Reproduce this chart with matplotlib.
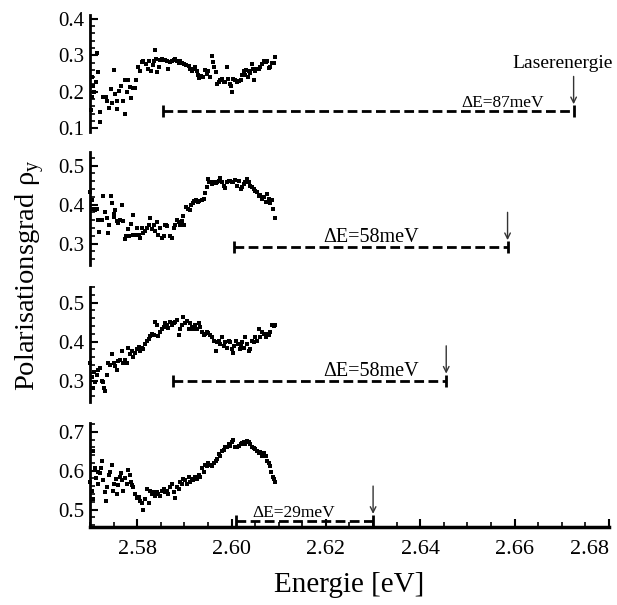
import matplotlib
matplotlib.use("Agg")
import matplotlib.pyplot as plt
from matplotlib.ticker import MultipleLocator, FormatStrFormatter

plt.rcParams['font.family'] = ['Liberation Serif', 'DejaVu Serif']
plt.rcParams['mathtext.fontset'] = 'custom'
plt.rcParams['mathtext.rm'] = 'Liberation Serif'

#---------- data ----------
energy1 = [2.5703, 2.5704, 2.5705, 2.5707, 2.5709, 2.5713, 2.5714, 2.5718, 2.5721, 2.5722,
           2.5727, 2.5734, 2.5737, 2.5740, 2.5744, 2.5746, 2.5750, 2.5752, 2.5757, 2.5758,
           2.5762, 2.5765, 2.5771, 2.5774, 2.5775, 2.5778, 2.5781, 2.5785, 2.5786, 2.5791,
           2.5796, 2.5797, 2.5801, 2.5805, 2.5810, 2.5813, 2.5819, 2.5822, 2.5826, 2.5829,
           2.5833, 2.5836, 2.5838, 2.5840, 2.5843, 2.5846, 2.5849, 2.5852, 2.5856, 2.5859,
           2.5863, 2.5866, 2.5870, 2.5873, 2.5877, 2.5881, 2.5884, 2.5888, 2.5891, 2.5895,
           2.5900, 2.5904, 2.5909, 2.5912, 2.5916, 2.5919, 2.5923, 2.5927, 2.5929, 2.5932,
           2.5935, 2.5939, 2.5944, 2.5948, 2.5951, 2.5955, 2.5958, 2.5960, 2.5963, 2.5966,
           2.5969, 2.5973, 2.5976, 2.5980, 2.5983, 2.5987, 2.5990, 2.5992, 2.5996, 2.5999,
           2.6001, 2.6004, 2.6008, 2.6012, 2.6015, 2.6019, 2.6022, 2.6026, 2.6029, 2.6031,
           2.6034, 2.6036, 2.6040, 2.6043, 2.6046, 2.6048, 2.6050, 2.6054, 2.6058, 2.6061,
           2.6065, 2.6068, 2.6072, 2.6075, 2.6079, 2.6082, 2.6086, 2.6089, 2.6093]
rho1 = [0.149, 0.240, 0.185, 0.217, 0.199, 0.226, 0.305, 0.254, 0.145, 0.117,
        0.185, 0.187, 0.176, 0.156, 0.208, 0.169, 0.260, 0.195, 0.176, 0.154,
        0.202, 0.217, 0.176, 0.231, 0.138, 0.199, 0.231, 0.213, 0.184, 0.211,
        0.211, 0.231, 0.267, 0.258, 0.281, 0.285, 0.276, 0.263, 0.284, 0.256,
        0.272, 0.285, 0.313, 0.290, 0.254, 0.267, 0.287, 0.289, 0.287, 0.287,
        0.285, 0.263, 0.281, 0.284, 0.287, 0.289, 0.285, 0.278, 0.284, 0.280,
        0.276, 0.272, 0.270, 0.263, 0.258, 0.263, 0.267, 0.258, 0.245, 0.238,
        0.242, 0.240, 0.260, 0.249, 0.258, 0.240, 0.299, 0.281, 0.267, 0.254,
        0.222, 0.226, 0.231, 0.235, 0.226, 0.226, 0.267, 0.235, 0.222, 0.217,
        0.199, 0.235, 0.231, 0.226, 0.229, 0.233, 0.245, 0.258, 0.245, 0.260,
        0.240, 0.258, 0.251, 0.276, 0.263, 0.233, 0.258, 0.263, 0.263, 0.269,
        0.276, 0.285, 0.281, 0.283, 0.265, 0.267, 0.278, 0.278, 0.295]

energy2 = [2.5701, 2.5704, 2.5707, 2.5711, 2.5714, 2.5718, 2.5720, 2.5725, 2.5728, 2.5732,
           2.5735, 2.5739, 2.5741, 2.5744, 2.5746, 2.5750, 2.5751, 2.5753, 2.5757, 2.5760,
           2.5764, 2.5767, 2.5769, 2.5774, 2.5776, 2.5780, 2.5783, 2.5786, 2.5791, 2.5792,
           2.5796, 2.5799, 2.5803, 2.5806, 2.5810, 2.5813, 2.5817, 2.5820, 2.5824, 2.5827,
           2.5831, 2.5835, 2.5838, 2.5842, 2.5845, 2.5849, 2.5852, 2.5856, 2.5859, 2.5861,
           2.5864, 2.5870, 2.5873, 2.5877, 2.5881, 2.5884, 2.5888, 2.5891, 2.5895, 2.5897,
           2.5900, 2.5904, 2.5907, 2.5911, 2.5914, 2.5918, 2.5921, 2.5925, 2.5928, 2.5932,
           2.5937, 2.5941, 2.5944, 2.5948, 2.5950, 2.5952, 2.5955, 2.5958, 2.5962, 2.5966,
           2.5969, 2.5973, 2.5976, 2.5980, 2.5983, 2.5987, 2.5990, 2.5994, 2.5997, 2.6001,
           2.6004, 2.6008, 2.6012, 2.6015, 2.6019, 2.6022, 2.6026, 2.6029, 2.6033, 2.6036,
           2.6040, 2.6043, 2.6047, 2.6050, 2.6054, 2.6058, 2.6061, 2.6065, 2.6068, 2.6072,
           2.6075, 2.6079, 2.6082, 2.6086, 2.6088, 2.6093]
rho2 = [0.433, 0.411, 0.390, 0.386, 0.388, 0.361, 0.330, 0.361, 0.422, 0.382,
        0.365, 0.327, 0.347, 0.423, 0.403, 0.375, 0.367, 0.386, 0.357, 0.353,
        0.361, 0.398, 0.357, 0.311, 0.319, 0.337, 0.319, 0.350, 0.373, 0.323,
        0.323, 0.340, 0.323, 0.315, 0.340, 0.327, 0.332, 0.340, 0.347, 0.365,
        0.338, 0.347, 0.332, 0.355, 0.323, 0.340, 0.315, 0.319, 0.347, 0.348,
        0.344, 0.319, 0.315, 0.340, 0.347, 0.361, 0.355, 0.348, 0.357, 0.372,
        0.347, 0.394, 0.390, 0.386, 0.398, 0.403, 0.408, 0.411, 0.407, 0.408,
        0.411, 0.415, 0.430, 0.444, 0.465, 0.457, 0.458, 0.453, 0.457, 0.455,
        0.457, 0.461, 0.467, 0.457, 0.448, 0.442, 0.457, 0.461, 0.461, 0.457,
        0.458, 0.463, 0.448, 0.461, 0.440, 0.444, 0.453, 0.458, 0.465, 0.457,
        0.448, 0.444, 0.440, 0.436, 0.432, 0.423, 0.425, 0.415, 0.419, 0.407,
        0.428, 0.415, 0.403, 0.411, 0.390, 0.365]

energy3 = [2.5701, 2.5704, 2.5706, 2.5708, 2.5711, 2.5714, 2.5718, 2.5721, 2.5725, 2.5728,
           2.5730, 2.5732, 2.5735, 2.5739, 2.5742, 2.5746, 2.5750, 2.5753, 2.5757, 2.5760,
           2.5764, 2.5767, 2.5771, 2.5774, 2.5778, 2.5781, 2.5785, 2.5789, 2.5792, 2.5796,
           2.5799, 2.5803, 2.5806, 2.5810, 2.5813, 2.5817, 2.5820, 2.5824, 2.5827, 2.5831,
           2.5835, 2.5838, 2.5842, 2.5845, 2.5849, 2.5852, 2.5856, 2.5859, 2.5863, 2.5866,
           2.5870, 2.5873, 2.5877, 2.5881, 2.5884, 2.5888, 2.5891, 2.5895, 2.5898, 2.5902,
           2.5905, 2.5909, 2.5912, 2.5916, 2.5919, 2.5923, 2.5927, 2.5930, 2.5934, 2.5937,
           2.5941, 2.5944, 2.5948, 2.5951, 2.5955, 2.5958, 2.5962, 2.5966, 2.5969, 2.5973,
           2.5976, 2.5980, 2.5983, 2.5987, 2.5990, 2.5994, 2.5997, 2.6001, 2.6003, 2.6006,
           2.6010, 2.6013, 2.6017, 2.6020, 2.6023, 2.6026, 2.6029, 2.6033, 2.6036, 2.6040,
           2.6043, 2.6047, 2.6050, 2.6054, 2.6058, 2.6061, 2.6065, 2.6068, 2.6072, 2.6075,
           2.6079, 2.6082, 2.6086, 2.6089, 2.6093]
rho3 = [0.344, 0.309, 0.282, 0.322, 0.296, 0.313, 0.327, 0.331, 0.300, 0.296,
        0.280, 0.273, 0.313, 0.344, 0.340, 0.367, 0.344, 0.337, 0.328, 0.349,
        0.353, 0.376, 0.344, 0.353, 0.346, 0.384, 0.367, 0.376, 0.360, 0.371,
        0.380, 0.387, 0.376, 0.384, 0.380, 0.393, 0.402, 0.407, 0.414, 0.420,
        0.417, 0.451, 0.442, 0.414, 0.424, 0.433, 0.438, 0.447, 0.442, 0.435,
        0.449, 0.442, 0.447, 0.451, 0.456, 0.416, 0.433, 0.442, 0.462, 0.447,
        0.453, 0.433, 0.447, 0.438, 0.433, 0.442, 0.432, 0.447, 0.438, 0.424,
        0.416, 0.420, 0.424, 0.423, 0.417, 0.411, 0.402, 0.376, 0.400, 0.402,
        0.393, 0.411, 0.389, 0.398, 0.384, 0.402, 0.398, 0.380, 0.371, 0.389,
        0.402, 0.393, 0.380, 0.389, 0.398, 0.384, 0.411, 0.393, 0.376, 0.380,
        0.402, 0.398, 0.411, 0.402, 0.433, 0.411, 0.424, 0.420, 0.411, 0.420,
        0.416, 0.424, 0.442, 0.440, 0.442]

energy4 = [2.5701, 2.5704, 2.5706, 2.5707, 2.5711, 2.5713, 2.5716, 2.5718, 2.5721, 2.5723,
           2.5725, 2.5728, 2.5732, 2.5734, 2.5737, 2.5740, 2.5742, 2.5746, 2.5748, 2.5751,
           2.5755, 2.5758, 2.5760, 2.5764, 2.5765, 2.5767, 2.5771, 2.5774, 2.5778, 2.5781,
           2.5784, 2.5786, 2.5789, 2.5792, 2.5796, 2.5799, 2.5803, 2.5806, 2.5810, 2.5813,
           2.5817, 2.5820, 2.5824, 2.5827, 2.5831, 2.5835, 2.5838, 2.5842, 2.5845, 2.5849,
           2.5852, 2.5856, 2.5859, 2.5863, 2.5866, 2.5870, 2.5873, 2.5877, 2.5881, 2.5884,
           2.5888, 2.5891, 2.5895, 2.5898, 2.5902, 2.5905, 2.5909, 2.5912, 2.5916, 2.5919,
           2.5923, 2.5927, 2.5930, 2.5934, 2.5937, 2.5941, 2.5944, 2.5948, 2.5951, 2.5955,
           2.5958, 2.5962, 2.5966, 2.5969, 2.5973, 2.5976, 2.5980, 2.5983, 2.5987, 2.5990,
           2.5994, 2.5997, 2.6001, 2.6004, 2.6008, 2.6012, 2.6015, 2.6019, 2.6022, 2.6026,
           2.6029, 2.6033, 2.6036, 2.6040, 2.6043, 2.6047, 2.6050, 2.6054, 2.6058, 2.6061,
           2.6065, 2.6068, 2.6072, 2.6075, 2.6079, 2.6081, 2.6084, 2.6087, 2.6089, 2.6093]
rho4 = [0.571, 0.548, 0.526, 0.651, 0.606, 0.581, 0.566, 0.597, 0.593, 0.606,
        0.624, 0.575, 0.544, 0.521, 0.557, 0.588, 0.597, 0.615, 0.548, 0.566,
        0.579, 0.539, 0.562, 0.584, 0.593, 0.575, 0.548, 0.581, 0.566, 0.602,
        0.588, 0.571, 0.562, 0.557, 0.539, 0.530, 0.533, 0.521, 0.517, 0.499,
        0.526, 0.553, 0.517, 0.548, 0.539, 0.546, 0.535, 0.544, 0.539, 0.535,
        0.548, 0.553, 0.544, 0.548, 0.539, 0.557, 0.566, 0.544, 0.530, 0.557,
        0.553, 0.571, 0.566, 0.579, 0.575, 0.566, 0.584, 0.572, 0.579, 0.575,
        0.584, 0.578, 0.590, 0.584, 0.606, 0.597, 0.615, 0.611, 0.620, 0.615,
        0.611, 0.620, 0.626, 0.631, 0.642, 0.638, 0.651, 0.653, 0.660, 0.662,
        0.669, 0.664, 0.673, 0.678, 0.660, 0.662, 0.664, 0.669, 0.671, 0.673,
        0.669, 0.676, 0.673, 0.669, 0.660, 0.658, 0.655, 0.651, 0.646, 0.649,
        0.638, 0.646, 0.638, 0.626, 0.620, 0.611, 0.597, 0.584, 0.578, 0.571]

laser_energy = [2.6725, 2.6585, 2.6455, 2.6300]   # eV
delta_e = [0.087, 0.058, 0.058, 0.029]            # eV
delta_labels = ['ΔE=87meV', 'ΔE=58meV', 'ΔE=58meV', 'ΔE=29meV']
bar_level = [0.147, 0.291, 0.300, 0.471]
label_center = [2.6575, 2.6296, 2.6296, 2.6131]

energies = [energy1, energy2, energy3, energy4]
rhos = [rho1, rho2, rho3, rho4]

#---------- layout ----------
W, H = 617, 605
fig = plt.figure(figsize=(W / 100, H / 100), dpi=100)

x0, x1 = 90, 609
panels = [(15, 132, (0.09, 0.41)),
          (152, 265, (0.245, 0.535)),
          (287, 402, (0.245, 0.54)),
          (423, 527, (0.455, 0.723))]
label_size = [12.5, 14.5, 14.5, 12.5]

axes = []
for i, (top, bot, ylim) in enumerate(panels):
    ax = fig.add_axes([x0 / W, 1 - bot / H, (x1 - x0) / W, (bot - top) / H])
    ax.set_xlim(2.57, 2.68)
    ax.set_ylim(*ylim)
    ax.patch.set_alpha(0)
    for s in ['top', 'right']:
        ax.spines[s].set_visible(False)
    ax.spines['left'].set_linewidth(2)
    ax.yaxis.set_major_locator(MultipleLocator(0.1))
    ax.yaxis.set_minor_locator(MultipleLocator(0.02))
    ax.yaxis.set_major_formatter(FormatStrFormatter('%.1f'))
    ax.tick_params(axis='y', which='major', direction='in', length=6, width=1.5,
                   labelsize=15, pad=4)
    ax.tick_params(axis='y', which='minor', direction='in', length=3.5, width=1.2)
    if i < 3:
        ax.spines['bottom'].set_visible(False)
        ax.tick_params(axis='x', which='both', bottom=False, labelbottom=False)
    else:
        ax.spines['bottom'].set_linewidth(2.5)
        ax.xaxis.set_major_locator(MultipleLocator(0.02))
        ax.xaxis.set_minor_locator(MultipleLocator(0.005))
        ax.xaxis.set_major_formatter(FormatStrFormatter('%.2f'))
        ax.tick_params(axis='x', which='major', direction='in', length=6, width=1.5,
                       labelsize=16, pad=9)
        ax.tick_params(axis='x', which='minor', direction='in', length=3.5, width=1.2)

    ax.plot(energies[i], rhos[i], 's', color='black', ms=2.3, mew=0, clip_on=False)

    # dashed energy gap bar with end caps
    start = laser_energy[i] - delta_e[i]
    ax.plot([start, laser_energy[i]], [bar_level[i], bar_level[i]], color='black',
            lw=2, ls=(0, (3.5, 1.6)), marker='|', ms=8, mew=2, clip_on=False)
    ax.text(label_center[i], bar_level[i], delta_labels[i], ha='center', va='bottom',
            fontsize=label_size[i])
    ax.annotate('', xy=(laser_energy[i], bar_level[i]), xytext=(0, 25),
                textcoords='offset points',
                arrowprops=dict(arrowstyle='->', color='#333333', lw=1,
                                shrinkA=0, shrinkB=5))
    axes.append(ax)

axes[0].annotate('Laserenergie', xy=(laser_energy[0], bar_level[0]), xytext=(-8, 28),
                 textcoords='offset points', ha='center', va='bottom', fontsize=14)

# last x tick label sits flush against the axis end, as in the original
fig.canvas.draw()
for tick in axes[3].xaxis.get_major_ticks():
    if abs(tick.get_loc() - 2.68) < 1e-6:
        tick.label1.set_horizontalalignment('right')

axes[3].set_xlabel('Energie [eV]', fontsize=21, labelpad=10)
fig.text(30 / W, 1 - 275 / H, r'Polarisationsgrad ρ$_\mathrm{y}$', rotation=90,
         ha='center', va='center', fontsize=20.5)

fig.savefig('out.png', dpi=100)
